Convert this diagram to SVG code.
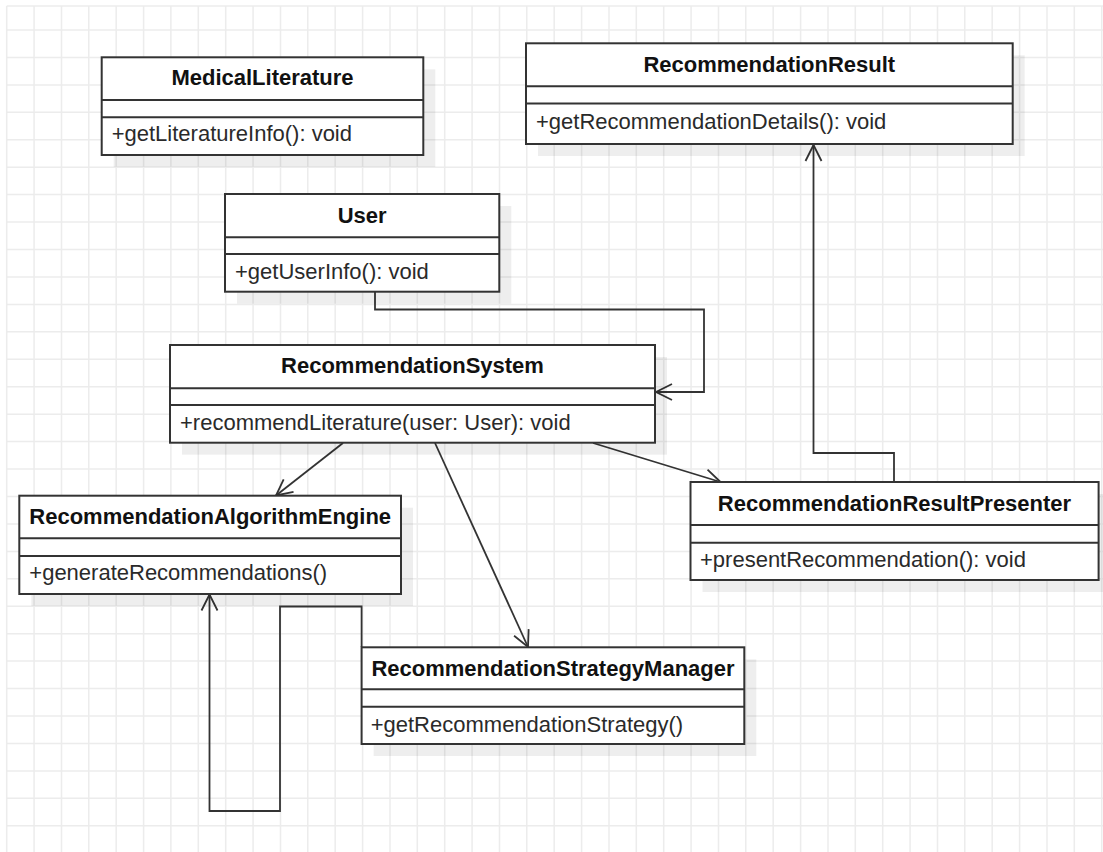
<svg xmlns="http://www.w3.org/2000/svg" width="1103" height="852" viewBox="0 0 1103 852">
  <style>
    .grid line { stroke: #ececec; stroke-width: 1.5; }
    .shadow { fill: #000; fill-opacity: 0.065; }
    .box { fill: #fff; stroke: #333; stroke-width: 2; }
    .div { stroke: #333; stroke-width: 2; }
    .title { font-family: "Liberation Sans", Arial, sans-serif; font-size: 22px; font-weight: bold; fill: #111; text-anchor: middle; }
    .op { font-family: "Liberation Sans", Arial, sans-serif; font-size: 22px; fill: #2a2a2a; }
    .conn { fill: none; stroke: #333; stroke-width: 1.8; }
  </style>
  <defs>
    <marker id="open" markerUnits="userSpaceOnUse" markerWidth="20" markerHeight="20" viewBox="-18 -10 20 20" refX="0" refY="0" orient="auto">
      <path d="M -16 -8 L 0 0 L -16 8" fill="none" stroke="#333" stroke-width="1.8"/>
    </marker>
  </defs>

  <rect width="1103" height="852" fill="#fff"/>

  <!-- background grid -->
  <g class="grid">
    <line x1="6.7" y1="6" x2="1103" y2="6"/>
    <line x1="6.7" y1="30" x2="1103" y2="30"/>
    <line x1="6.7" y1="57.4" x2="1103" y2="57.4"/>
    <line x1="6.7" y1="84.9" x2="1103" y2="84.9"/>
    <line x1="6.7" y1="112.3" x2="1103" y2="112.3"/>
    <line x1="6.7" y1="139.8" x2="1103" y2="139.8"/>
    <line x1="6.7" y1="167.2" x2="1103" y2="167.2"/>
    <line x1="6.7" y1="194.6" x2="1103" y2="194.6"/>
    <line x1="6.7" y1="222.1" x2="1103" y2="222.1"/>
    <line x1="6.7" y1="249.5" x2="1103" y2="249.5"/>
    <line x1="6.7" y1="277" x2="1103" y2="277"/>
    <line x1="6.7" y1="304.4" x2="1103" y2="304.4"/>
    <line x1="6.7" y1="331.8" x2="1103" y2="331.8"/>
    <line x1="6.7" y1="359.3" x2="1103" y2="359.3"/>
    <line x1="6.7" y1="386.7" x2="1103" y2="386.7"/>
    <line x1="6.7" y1="414.2" x2="1103" y2="414.2"/>
    <line x1="6.7" y1="441.6" x2="1103" y2="441.6"/>
    <line x1="6.7" y1="469" x2="1103" y2="469"/>
    <line x1="6.7" y1="496.5" x2="1103" y2="496.5"/>
    <line x1="6.7" y1="523.9" x2="1103" y2="523.9"/>
    <line x1="6.7" y1="551.4" x2="1103" y2="551.4"/>
    <line x1="6.7" y1="578.8" x2="1103" y2="578.8"/>
    <line x1="6.7" y1="606.2" x2="1103" y2="606.2"/>
    <line x1="6.7" y1="633.7" x2="1103" y2="633.7"/>
    <line x1="6.7" y1="661.1" x2="1103" y2="661.1"/>
    <line x1="6.7" y1="688.6" x2="1103" y2="688.6"/>
    <line x1="6.7" y1="716" x2="1103" y2="716"/>
    <line x1="6.7" y1="743.4" x2="1103" y2="743.4"/>
    <line x1="6.7" y1="770.9" x2="1103" y2="770.9"/>
    <line x1="6.7" y1="798.3" x2="1103" y2="798.3"/>
    <line x1="6.7" y1="825.8" x2="1103" y2="825.8"/>
    <line x1="6.7" y1="6" x2="6.7" y2="852"/>
    <line x1="34.1" y1="6" x2="34.1" y2="852"/>
    <line x1="61.5" y1="6" x2="61.5" y2="852"/>
    <line x1="88.8" y1="6" x2="88.8" y2="852"/>
    <line x1="116.2" y1="6" x2="116.2" y2="852"/>
    <line x1="143.6" y1="6" x2="143.6" y2="852"/>
    <line x1="170.9" y1="6" x2="170.9" y2="852"/>
    <line x1="198.3" y1="6" x2="198.3" y2="852"/>
    <line x1="225.7" y1="6" x2="225.7" y2="852"/>
    <line x1="253.1" y1="6" x2="253.1" y2="852"/>
    <line x1="280.5" y1="6" x2="280.5" y2="852"/>
    <line x1="307.8" y1="6" x2="307.8" y2="852"/>
    <line x1="335.2" y1="6" x2="335.2" y2="852"/>
    <line x1="362.6" y1="6" x2="362.6" y2="852"/>
    <line x1="390" y1="6" x2="390" y2="852"/>
    <line x1="417.3" y1="6" x2="417.3" y2="852"/>
    <line x1="444.7" y1="6" x2="444.7" y2="852"/>
    <line x1="472.1" y1="6" x2="472.1" y2="852"/>
    <line x1="499.5" y1="6" x2="499.5" y2="852"/>
    <line x1="526.8" y1="6" x2="526.8" y2="852"/>
    <line x1="554.2" y1="6" x2="554.2" y2="852"/>
    <line x1="581.6" y1="6" x2="581.6" y2="852"/>
    <line x1="609" y1="6" x2="609" y2="852"/>
    <line x1="636.3" y1="6" x2="636.3" y2="852"/>
    <line x1="663.7" y1="6" x2="663.7" y2="852"/>
    <line x1="691.1" y1="6" x2="691.1" y2="852"/>
    <line x1="718.5" y1="6" x2="718.5" y2="852"/>
    <line x1="745.8" y1="6" x2="745.8" y2="852"/>
    <line x1="773.2" y1="6" x2="773.2" y2="852"/>
    <line x1="800.6" y1="6" x2="800.6" y2="852"/>
    <line x1="828" y1="6" x2="828" y2="852"/>
    <line x1="855.3" y1="6" x2="855.3" y2="852"/>
    <line x1="882.7" y1="6" x2="882.7" y2="852"/>
    <line x1="910.1" y1="6" x2="910.1" y2="852"/>
    <line x1="937.5" y1="6" x2="937.5" y2="852"/>
    <line x1="964.8" y1="6" x2="964.8" y2="852"/>
    <line x1="992.2" y1="6" x2="992.2" y2="852"/>
    <line x1="1019.6" y1="6" x2="1019.6" y2="852"/>
    <line x1="1047" y1="6" x2="1047" y2="852"/>
    <line x1="1074.3" y1="6" x2="1074.3" y2="852"/>
    <line x1="1101.7" y1="6" x2="1101.7" y2="852"/>
  </g>

  <!-- connectors -->
  <g id="connectors">
    <polyline class="conn" points="375,292 375,309.5 704,309.5 704,392 656,392" marker-end="url(#open)"/>
    <line class="conn" x1="343" y1="443" x2="276" y2="495.5" marker-end="url(#open)"/>
    <line class="conn" x1="435" y1="443" x2="528" y2="647" marker-end="url(#open)"/>
    <line class="conn" x1="593" y1="443" x2="720.5" y2="482" marker-end="url(#open)"/>
    <polyline class="conn" points="894,482 894,453 813.5,453 813.5,145" marker-end="url(#open)"/>
    <polyline class="conn" points="361.6,647 361.6,606.5 280,606.5 280,811 209.5,811 209.5,594.5" marker-end="url(#open)"/>
  </g>

  <!-- MedicalLiterature -->
  <g id="MedicalLiterature">
    <rect class="shadow" x="113.7" y="69.3" width="321.6" height="97.7"/>
    <rect class="box" x="101.7" y="57.3" width="321.6" height="97.7"/>
    <line class="div" x1="101.7" y1="100" x2="423.3" y2="100"/>
    <line class="div" x1="101.7" y1="117.3" x2="423.3" y2="117.3"/>
    <text class="title" x="262.5" y="85">MedicalLiterature</text>
    <text class="op" x="111.7" y="140.7">+getLiteratureInfo(): void</text>
  </g>

  <!-- RecommendationResult -->
  <g id="RecommendationResult">
    <rect class="shadow" x="538" y="55.3" width="486.7" height="100.7"/>
    <rect class="box" x="526" y="43.3" width="486.7" height="100.7"/>
    <line class="div" x1="526" y1="86.3" x2="1012.7" y2="86.3"/>
    <line class="div" x1="526" y1="103.5" x2="1012.7" y2="103.5"/>
    <text class="title" x="769.3" y="72">RecommendationResult</text>
    <text class="op" x="536" y="129">+getRecommendationDetails(): void</text>
  </g>

  <!-- User -->
  <g id="User">
    <rect class="shadow" x="237" y="206" width="274.3" height="97.7"/>
    <rect class="box" x="225" y="194" width="274.3" height="97.7"/>
    <line class="div" x1="225" y1="237.3" x2="499.3" y2="237.3"/>
    <line class="div" x1="225" y1="254" x2="499.3" y2="254"/>
    <text class="title" x="362.2" y="223.3">User</text>
    <text class="op" x="235" y="279.3">+getUserInfo(): void</text>
  </g>

  <!-- RecommendationSystem -->
  <g id="RecommendationSystem">
    <rect class="shadow" x="182" y="357" width="485" height="97.7"/>
    <rect class="box" x="170" y="345" width="485" height="97.7"/>
    <line class="div" x1="170" y1="388.3" x2="655" y2="388.3"/>
    <line class="div" x1="170" y1="405" x2="655" y2="405"/>
    <text class="title" x="412.5" y="373.3">RecommendationSystem</text>
    <text class="op" x="180" y="430">+recommendLiterature(user: User): void</text>
  </g>

  <!-- RecommendationAlgorithmEngine -->
  <g id="RecommendationAlgorithmEngine">
    <rect class="shadow" x="31.3" y="507.7" width="381.7" height="98.3"/>
    <rect class="box" x="19.3" y="495.7" width="381.7" height="98.3"/>
    <line class="div" x1="19.3" y1="538.3" x2="401" y2="538.3"/>
    <line class="div" x1="19.3" y1="556" x2="401" y2="556"/>
    <text class="title" x="210.2" y="524">RecommendationAlgorithmEngine</text>
    <text class="op" x="29.3" y="580">+generateRecommendations()</text>
  </g>

  <!-- RecommendationResultPresenter -->
  <g id="RecommendationResultPresenter">
    <rect class="shadow" x="702.5" y="494" width="408.1" height="98"/>
    <rect class="box" x="690.5" y="482" width="408.1" height="98"/>
    <line class="div" x1="690.5" y1="525" x2="1098.6" y2="525"/>
    <line class="div" x1="690.5" y1="542.7" x2="1098.6" y2="542.7"/>
    <text class="title" x="894.5" y="511">RecommendationResultPresenter</text>
    <text class="op" x="700" y="566.7">+presentRecommendation(): void</text>
  </g>

  <!-- RecommendationStrategyManager -->
  <g id="RecommendationStrategyManager">
    <rect class="shadow" x="373.6" y="659.3" width="382.7" height="96.7"/>
    <rect class="box" x="361.6" y="647.3" width="382.7" height="96.7"/>
    <line class="div" x1="361.6" y1="689.3" x2="744.3" y2="689.3"/>
    <line class="div" x1="361.6" y1="706.7" x2="744.3" y2="706.7"/>
    <text class="title" x="553" y="675.5">RecommendationStrategyManager</text>
    <text class="op" x="370.7" y="731.5">+getRecommendationStrategy()</text>
  </g>
</svg>
